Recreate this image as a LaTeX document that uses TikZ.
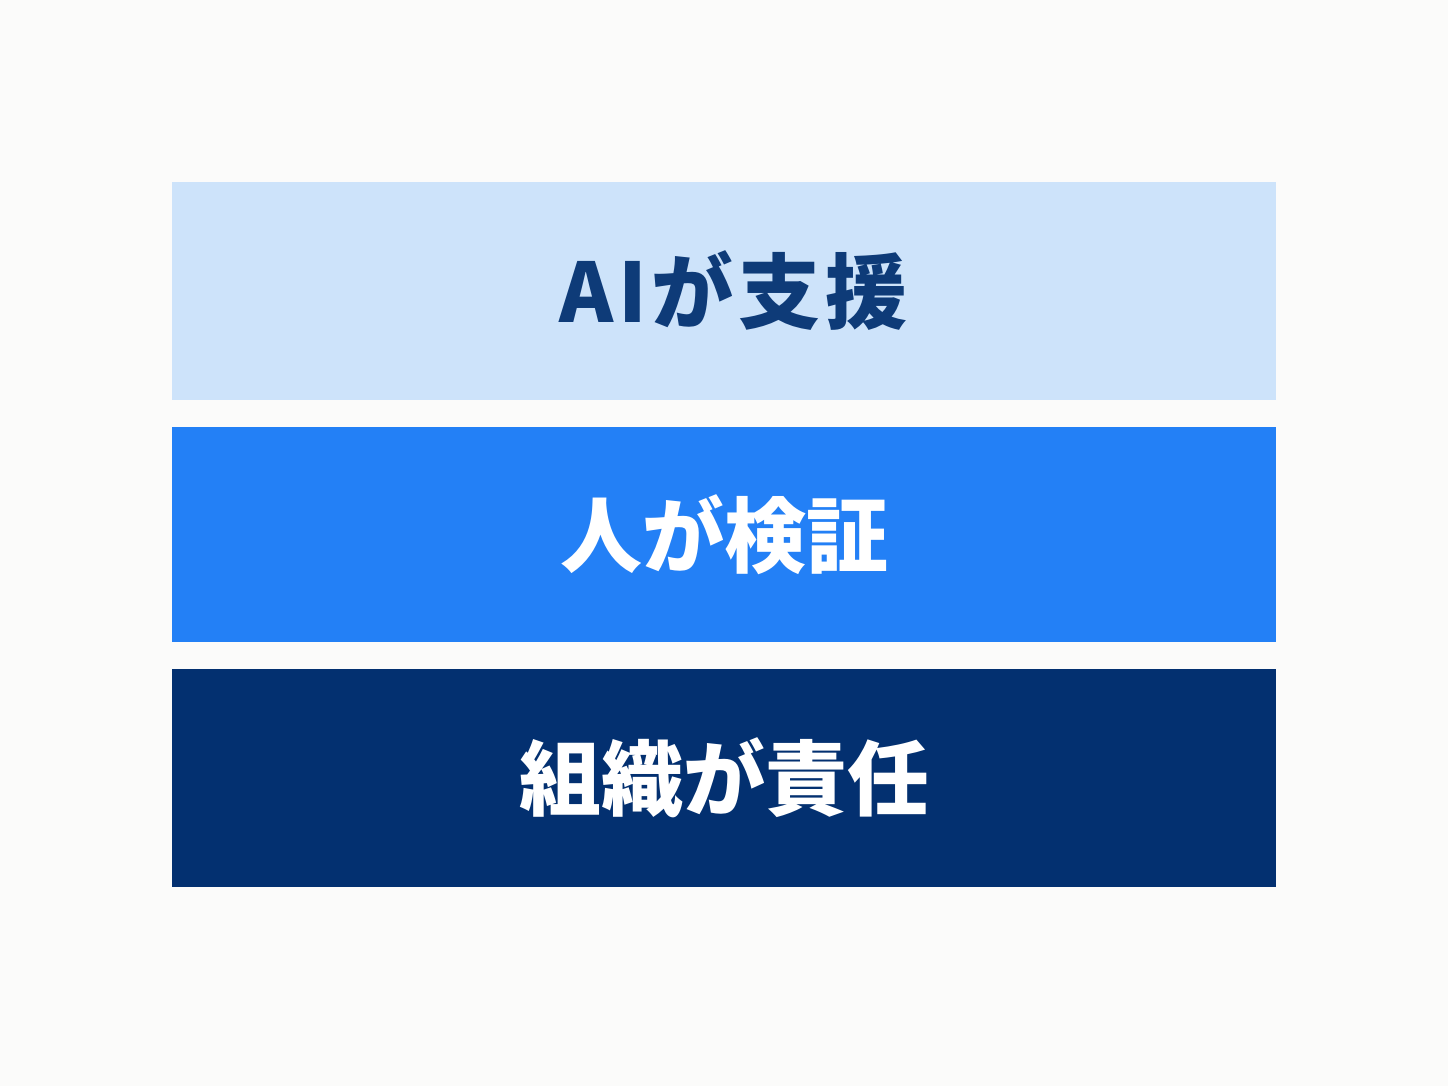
\documentclass[tikz,border=0pt]{standalone}
\usepackage{fontspec}
\newfontfamily\cjk{Noto Sans CJK JP}
\definecolor{bg}{HTML}{FBFBFA}
\definecolor{lightb}{HTML}{CDE3FA}
\definecolor{midb}{HTML}{2380F6}
\definecolor{darkb}{HTML}{033070}
\definecolor{navytext}{HTML}{0E3B78}
\tikzset{
  layer/.style={draw=none, minimum width=1104pt, inner sep=0pt, outer sep=0pt, font=\cjk\bfseries\fontsize{82}{90}\selectfont},
}
\begin{document}
\begin{tikzpicture}[x=1pt,y=-1pt]
\fill[bg] (0,0) rectangle (1448,1086);
\useasboundingbox (0,0) rectangle (1448,1086);
\node[layer, fill=lightb, text=navytext, minimum height=218pt] (ai) at (724,291) {\hspace*{19pt}\addfontfeature{LetterSpace=6}AIが支援};
\node[layer, fill=midb, text=white, minimum height=215pt] (hito) at (724,534.5) {人が検証};
\node[layer, fill=darkb, text=white, minimum height=218pt] (soshiki) at (724,778) {組織が責任};
\end{tikzpicture}
\end{document}
